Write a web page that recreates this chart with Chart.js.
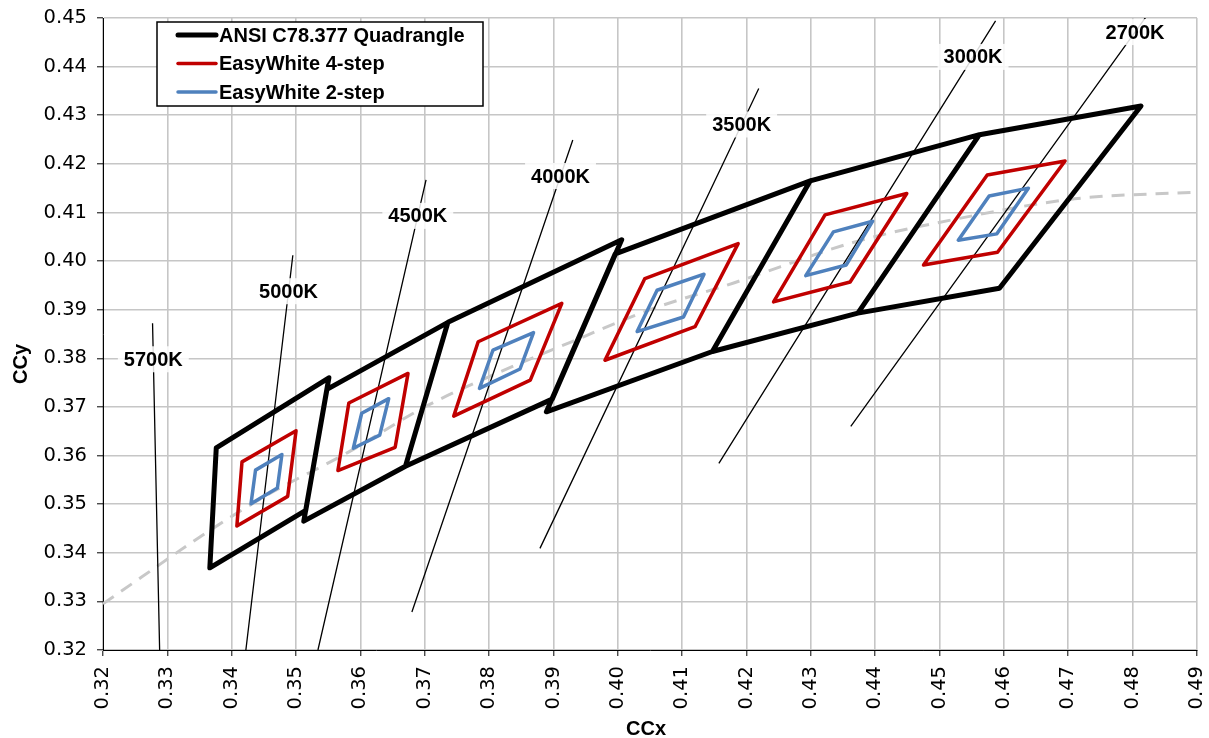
<!DOCTYPE html>
<html>
<head>
<meta charset="utf-8">
<title>ANSI C78.377 quadrangles and EasyWhite bins</title>
<script src="https://cdn.jsdelivr.net/npm/chart.js@4.4.0/dist/chart.umd.min.js"></script>
<style>
  html, body { margin: 0; padding: 0; background: #fff; }
  #wrap { width: 1209px; height: 738px; }
</style>
</head>
<body>
<div id="wrap"><canvas id="chart" width="1209" height="738"></canvas></div>
<script>
// Bins, coolest first. Corners go top-right, top-left, bottom-left, bottom-right.
const binNames = ['5000K', '4500K', '4000K', '3500K', '3000K', '2700K'];

const ansiX = [
  [0.3551, 0.3376, 0.3366, 0.3515],
  [0.3736, 0.3548, 0.3512, 0.3670],
  [0.4006, 0.3736, 0.3670, 0.3898],
  [0.4299, 0.3996, 0.3889, 0.4147],
  [0.4562, 0.4299, 0.4147, 0.4373],
  [0.4813, 0.4562, 0.4373, 0.4593]
];
const ansiY = [
  [0.3760, 0.3616, 0.3369, 0.3487],
  [0.3874, 0.3736, 0.3465, 0.3578],
  [0.4044, 0.3874, 0.3578, 0.3716],
  [0.4165, 0.4015, 0.3690, 0.3814],
  [0.4260, 0.4165, 0.3814, 0.3893],
  [0.4319, 0.4260, 0.3893, 0.3944]
];

const step4X = [
  [0.3500, 0.3416, 0.3408, 0.3487],
  [0.3674, 0.3582, 0.3565, 0.3654],
  [0.3913, 0.3783, 0.3745, 0.3864],
  [0.4187, 0.4042, 0.3980, 0.4120],
  [0.4449, 0.4322, 0.4242, 0.4361],
  [0.4695, 0.4574, 0.4475, 0.4590]
];
const step4Y = [
  [0.3651, 0.3587, 0.3455, 0.3516],
  [0.3769, 0.3708, 0.3569, 0.3617],
  [0.3913, 0.3834, 0.3681, 0.3755],
  [0.4036, 0.3964, 0.3796, 0.3865],
  [0.4139, 0.4095, 0.3916, 0.3957],
  [0.4206, 0.4177, 0.3992, 0.4018]
];

const step2X = [
  [0.3478, 0.3437, 0.3430, 0.3471],
  [0.3644, 0.3602, 0.3589, 0.3630],
  [0.3869, 0.3806, 0.3785, 0.3848],
  [0.4134, 0.4061, 0.4030, 0.4102],
  [0.4396, 0.4335, 0.4292, 0.4355],
  [0.4638, 0.4577, 0.4529, 0.4589]
];
const step2Y = [
  [0.3602, 0.3570, 0.3501, 0.3533],
  [0.3717, 0.3687, 0.3615, 0.3642],
  [0.3853, 0.3817, 0.3738, 0.3778],
  [0.3973, 0.3940, 0.3855, 0.3885],
  [0.4082, 0.4060, 0.3970, 0.3992],
  [0.4150, 0.4134, 0.4043, 0.4056]
];

// Isotemperature lines (top end, bottom end)
const isoNames = ['5700K', '5000K', '4500K', '4000K', '3500K', '3000K', '2700K'];
const isoTopX = [0.3277, 0.3495, 0.3702, 0.3930, 0.4219, 0.4587, 0.4844];
const isoTopY = [0.3872, 0.4012, 0.4167, 0.4249, 0.4355, 0.4494, 0.4545];
const isoBottomX = [0.3288, 0.3422, 0.3534, 0.3680, 0.3879, 0.4157, 0.4362];
const isoBottomY = [0.3200, 0.3200, 0.3200, 0.3278, 0.3409, 0.3584, 0.3660];

// Blackbody locus (dashed grey)
const locusX = [0.320, 0.326, 0.335, 0.345, 0.358, 0.370, 0.381, 0.393, 0.405, 0.418, 0.437, 0.452, 0.471, 0.490];
const locusY = [0.3295, 0.3350, 0.3432, 0.3515, 0.3606, 0.3700, 0.3768, 0.3835, 0.3900, 0.3955, 0.4040, 0.4085, 0.4128, 0.4142];

const xMin = 0.32, xMax = 0.49, yMin = 0.32, yMax = 0.45, tickStep = 0.01;

const GAP = { x: null, y: null };

function quadPath(xs, ys) {
  const pts = [];
  xs.forEach((qx, i) => {
    // walk round the corners and re-trace the first edge so the joint closes
    [0, 1, 2, 3, 0, 1].forEach(k => pts.push({ x: qx[k], y: ys[i][k] }));
    pts.push(GAP);
  });
  return pts;
}

function isoPath() {
  const pts = [];
  isoNames.forEach((n, i) => {
    pts.push({ x: isoTopX[i], y: isoTopY[i] });
    pts.push({ x: isoBottomX[i], y: isoBottomY[i] });
    pts.push(GAP);
  });
  return pts;
}

const boldFont = '"Liberation Sans", Arial, sans-serif';
const tickFont = { family: '"DejaVu Sans", Verdana, sans-serif', size: 19.5 };
const labelDrop = 0.0074;

const lineBase = { showLine: true, pointRadius: 0, pointHoverRadius: 0, spanGaps: false, fill: false, tension: 0 };

const datasets = [
  Object.assign({}, lineBase, {
    label: 'EasyWhite 2-step', data: quadPath(step2X, step2Y), order: 1, legend: true,
    borderColor: '#4f81bd', borderWidth: 3.5, borderJoinStyle: 'round'
  }),
  Object.assign({}, lineBase, {
    label: 'EasyWhite 4-step', data: quadPath(step4X, step4Y), order: 2, legend: true,
    borderColor: '#c00000', borderWidth: 3.5, borderJoinStyle: 'round'
  }),
  Object.assign({}, lineBase, {
    label: 'ANSI C78.377 Quadrangle', data: quadPath(ansiX, ansiY), order: 3, legend: true,
    borderColor: '#000000', borderWidth: 5, borderJoinStyle: 'round'
  }),
  Object.assign({}, lineBase, {
    label: 'Isotemperature', data: isoPath(), order: 4,
    borderColor: '#000000', borderWidth: 1.3
  }),
  Object.assign({}, lineBase, {
    label: 'Planckian locus', data: locusX.map((v, i) => ({ x: v, y: locusY[i] })), order: 5,
    borderColor: '#c8c8c8', borderWidth: 3, borderDash: [13, 9], cubicInterpolationMode: 'monotone', tension: 0.4
  })
];

// CCT labels sitting on the isotemperature lines
const cctLabelPlugin = {
  id: 'cctLabels',
  afterDatasetsDraw(chart) {
    const { ctx } = chart;
    const sx = chart.scales.x, sy = chart.scales.y;
    ctx.save();
    ctx.font = 'bold 20px ' + boldFont;
    ctx.textAlign = 'center';
    ctx.textBaseline = 'middle';
    isoNames.forEach((name, i) => {
      const ly = isoTopY[i] - labelDrop;
      const t = labelDrop / (isoTopY[i] - isoBottomY[i]);
      const lx = isoTopX[i] + t * (isoBottomX[i] - isoTopX[i]);
      const px = sx.getPixelForValue(lx);
      const py = sy.getPixelForValue(ly);
      const w = ctx.measureText(name).width + 12;
      ctx.fillStyle = 'rgba(255,255,255,0.85)';
      ctx.fillRect(px - w / 2, py - 13, w, 26);
      ctx.fillStyle = '#000';
      ctx.fillText(name, px, py + 1);
    });
    ctx.restore();
  }
};

// Boxed legend inside the plot plus the two axis titles
const framePlugin = {
  id: 'frame',
  afterDraw(chart) {
    const { ctx, chartArea } = chart;
    ctx.save();

    const items = chart.data.datasets.filter(d => d.legend).sort((a, b) => b.order - a.order);
    const bx = chartArea.left + 54, by = chartArea.top + 4;
    ctx.fillStyle = '#fff';
    ctx.fillRect(bx, by, 326, 84);
    ctx.strokeStyle = '#000';
    ctx.lineWidth = 1.5;
    ctx.strokeRect(bx, by, 326, 84);

    ctx.font = 'bold 20px ' + boldFont;
    ctx.textBaseline = 'middle';
    ctx.textAlign = 'left';
    items.forEach((d, i) => {
      const ry = by + 13 + i * 28.5;
      ctx.beginPath();
      ctx.strokeStyle = d.borderColor;
      ctx.lineWidth = d.borderWidth;
      ctx.lineCap = 'round';
      ctx.moveTo(bx + 21, ry);
      ctx.lineTo(bx + 59, ry);
      ctx.stroke();
      ctx.fillStyle = '#000';
      ctx.fillText(d.label, bx + 62, ry + 1);
    });

    ctx.font = 'bold 20px ' + boldFont;
    ctx.textAlign = 'center';
    ctx.fillText('CCx', (chartArea.left + chartArea.right) / 2 - 4, chart.height - 9);
    ctx.translate(21, (chartArea.top + chartArea.bottom) / 2 + 30);
    ctx.rotate(-Math.PI / 2);
    ctx.fillText('CCy', 0, 0);
    ctx.restore();
  }
};

const gridStyle = { color: '#c6c6c6', lineWidth: 1.6, tickColor: '#000', tickWidth: 1, tickLength: 6 };

new Chart(document.getElementById('chart'), {
  type: 'scatter',
  data: { datasets: datasets },
  options: {
    responsive: false,
    devicePixelRatio: 1,
    animation: false,
    layout: { padding: { top: 18, right: 12, left: 0, bottom: 0 } },
    plugins: { legend: { display: false }, tooltip: { enabled: false } },
    scales: {
      x: {
        type: 'linear', min: xMin, max: xMax,
        grid: gridStyle,
        border: { color: '#000', width: 1 },
        ticks: {
          stepSize: tickStep, autoSkip: false, minRotation: 90, maxRotation: 90,
          color: '#000', font: tickFont, padding: 10,
          callback: v => v.toFixed(2)
        },
        afterFit: s => {
          s.height = 88;
          s.paddingLeft = 0;
          s.paddingRight = 0;
        }
      },
      y: {
        type: 'linear', min: yMin, max: yMax,
        grid: gridStyle,
        border: { color: '#000', width: 1 },
        ticks: {
          stepSize: tickStep, autoSkip: false,
          color: '#000', font: tickFont, padding: 10,
          callback: v => v.toFixed(2)
        },
        afterFit: s => {
          s.width = 103;
          s.paddingTop = 0;
          s.paddingBottom = 0;
        }
      }
    }
  },
  plugins: [cctLabelPlugin, framePlugin]
});
</script>
</body>
</html>
